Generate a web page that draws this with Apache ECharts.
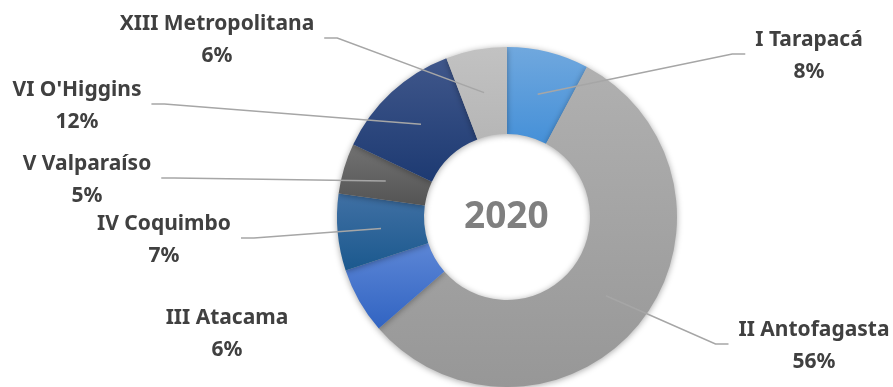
<!DOCTYPE html>
<html>
<head>
<meta charset="utf-8">
<script src="https://cdn.jsdelivr.net/npm/echarts@6/dist/echarts.min.js"></script>
<style>html,body{margin:0;padding:0;background:#fff;}#c{width:893px;height:387px;}</style>
</head>
<body>
<div id="c"></div>
<script>
const categories = ['I Tarapacá', 'II Antofagasta', 'III Atacama', 'IV Coquimbo', 'V Valparaíso', "VI O'Higgins", 'XIII Metropolitana'];
const values = [7.8, 55.8, 6.3, 7.3, 4.8, 12.2, 5.8];
const centerLabel = '2020';

// styling (not data)
const colorStops = [
  ['#70a8de', '#4590d8'],
  ['#b0b0b0', '#979797'],
  ['#5c86d6', '#3164c2'],
  ['#4070a4', '#1b598e'],
  ['#727272', '#545454'],
  ['#40578b', '#1d3a72'],
  ['#c2c2c2', '#b6b6b6']
];
// label block centers (layout)
const labelPos = [[809, 56], [814, 346], [227, 334], [164, 240], [87, 180], [77, 106], [217, 40]];
const labelSide = [1, 1, 0, -1, -1, -1, -1]; // +1 right of pie, -1 left, 0 no line
const CX = 507, CY = 217, R0 = 83, R1 = 170;

function render() {
  const chart = echarts.init(document.getElementById('c'));
  const ringData = categories.map((n, i) => ({
    name: n,
    value: values[i],
    itemStyle: {
      color: new echarts.graphic.LinearGradient(0, 0, 0, 1, [
        { offset: 0, color: colorStops[i][0] },
        { offset: 1, color: colorStops[i][1] }
      ])
    }
  }));
  const labelData = categories.map((n, i) => ({
    name: n,
    value: values[i],
    labelLine: { show: labelSide[i] !== 0 }
  }));

  const font = { fontFamily: 'Noto Sans', fontWeight: 'bold', fontSize: 21, color: '#404040', lineHeight: 32, align: 'center' };

  chart.setOption({
    animation: false,
    title: {
      text: centerLabel,
      left: CX - 43,
      top: CY - 30,
      padding: 0,
      textStyle: { fontFamily: 'Noto Sans', fontWeight: 'bold', fontSize: 37, color: '#7f7f7f', lineHeight: 60 }
    },
    series: [{
      type: 'pie',
      z: 2,
      center: [CX, CY],
      radius: [R0, R1],
      startAngle: 90,
      clockwise: true,
      data: ringData,
      itemStyle: { shadowBlur: 6, shadowColor: 'rgba(0,0,0,0.35)', shadowOffsetY: 1 },
      label: { show: false },
      labelLine: { show: false },
      emphasis: { disabled: true },
      silent: true
    }, {
      type: 'pie',
      z: 5,
      center: [CX, CY],
      radius: [R0, R1],
      startAngle: 90,
      clockwise: true,
      data: labelData,
      silent: true,
      itemStyle: { color: 'rgba(0,0,0,0)' },
      label: {
        show: true,
        formatter: p => '{n|' + p.name + '}\n{p|' + Math.round(p.value) + '%}',
        rich: { n: font, p: font },
        align: 'center'
      },
      labelLine: { show: true, lineStyle: { color: '#a6a6a6', width: 1.5 } },
      emphasis: { disabled: true },
      labelLayout: function (params) {
        const i = params.dataIndex;
        const pos = labelPos[i];
        const w = params.labelRect.width;
        const res = { x: pos[0], y: pos[1], align: 'center', verticalAlign: 'middle' };
        const pts = params.labelLinePoints;
        if (pts && labelSide[i] !== 0) {
          const dx = pts[0][0] - CX, dy = pts[0][1] - CY;
          const d = Math.sqrt(dx * dx + dy * dy);
          const rm = (R0 + R1) / 2;
          const start = [CX + dx / d * rm, CY + dy / d * rm];
          const ey = pos[1] - 2;
          let end, elbow;
          if (labelSide[i] > 0) {
            end = [pos[0] - w / 2 - 10, ey];
            elbow = [end[0] - 13, ey];
          } else {
            end = [pos[0] + w / 2 + 10, ey];
            elbow = [end[0] + 13, ey];
          }
          res.labelLinePoints = [start, elbow, end];
        }
        return res;
      }
    }]
  });
}

if (document.fonts && document.fonts.load) {
  document.fonts.load('bold 21px "Noto Sans"').then(render, render);
} else {
  render();
}
</script>
</body>
</html>
